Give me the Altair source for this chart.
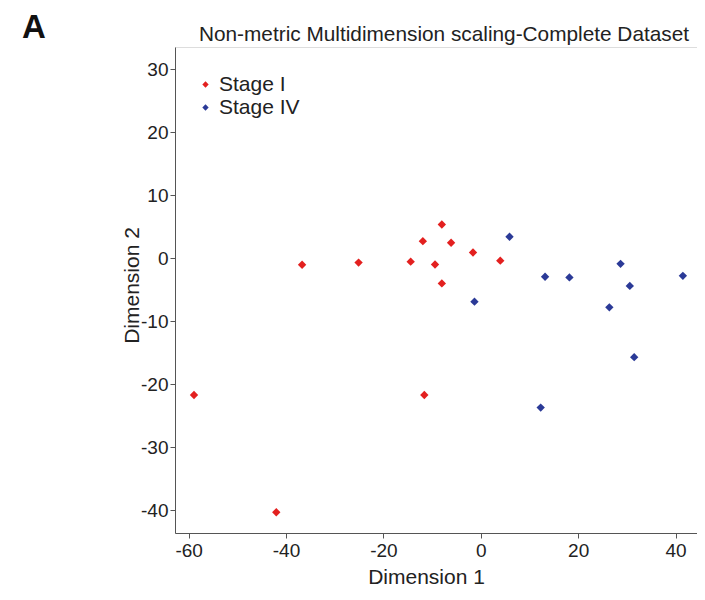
import altair as alt
import pandas as pd

stage1_x = [-58.9, -42.0, -36.7, -25.1, -14.4, -11.9, -9.4, -8.0, -8.0, -6.1, -1.6, 4.0, -11.6]
stage1_y = [-21.7, -40.3, -1.05, -0.7, -0.55, 2.7, -1.0, 5.35, -4.0, 2.45, 0.9, -0.4, -21.7]
stage4_x = [5.9, -1.3, 13.2, 18.2, 28.7, 30.6, 26.4, 31.5, 12.3, 41.5]
stage4_y = [3.4, -6.9, -2.95, -3.05, -0.9, -4.4, -7.8, -15.7, -23.7, -2.8]
groups = ["Stage I", "Stage IV"]
colors = ["#e3201f", "#2b3a97"]
x_ticks = [-60, -40, -20, 0, 20, 40]
y_ticks = [-40, -30, -20, -10, 0, 10, 20, 30]
title_text = "Non-metric Multidimension scaling-Complete Dataset"
panel_label = "A"

df = pd.DataFrame({
    "d1": stage1_x + stage4_x,
    "d2": stage1_y + stage4_y,
    "stage": [groups[0]] * len(stage1_x) + [groups[1]] * len(stage4_x),
})

FONT = "Liberation Sans"
LBL = "'' + datum.value"

points = alt.Chart(df).mark_point(shape="diamond", filled=True, size=70, opacity=1).encode(
    x=alt.X("d1:Q", title="Dimension 1",
            scale=alt.Scale(domain=[-62.8, 44.4], nice=False, zero=False),
            axis=alt.Axis(values=x_ticks, grid=False, tickSize=5, labelFontSize=19,
                          titleFontSize=21, labelPadding=3, titlePadding=6,
                          labelExpr=LBL, titleX=251,
                          labelColor="#222", titleColor="#222", titleFontWeight="normal",
                          domainColor="#555", tickColor="#555")),
    y=alt.Y("d2:Q", title="Dimension 2",
            scale=alt.Scale(domain=[-43.6, 33.5], nice=False, zero=False),
            axis=alt.Axis(values=y_ticks, grid=False, tickSize=5, labelFontSize=19,
                          titleFontSize=21, labelPadding=2, titleX=-33, titleY=238,
                          labelExpr=LBL,
                          labelColor="#222", titleColor="#222", titleFontWeight="normal",
                          domainColor="#555", tickColor="#555")),
    color=alt.Color("stage:N", scale=alt.Scale(domain=groups, range=colors),
                    legend=alt.Legend(title=None, orient="none", legendX=20, legendY=27,
                                      labelFontSize=21, labelColor="#222", symbolSize=40,
                                      symbolType="diamond", rowPadding=1, labelOffset=3,
                                      labelFont=FONT)),
)

label_a = alt.Chart(pd.DataFrame({"t": [panel_label]})).mark_text(
    font=FONT, fontSize=33, fontWeight="bold", align="left",
    baseline="alphabetic", color="#111"
).encode(text="t:N", x=alt.value(-153), y=alt.value(-9))

title_mark = alt.Chart(pd.DataFrame({"t": [title_text]})).mark_text(
    font=FONT, fontSize=20.8, align="center", baseline="alphabetic", color="#222"
).encode(text="t:N", x=alt.value(269), y=alt.value(-6))

chart = alt.layer(points, label_a, title_mark).properties(
    width=522, height=486,
    autosize=alt.AutoSizeParams(type="none"),
    padding={"left": 167, "top": 39, "right": 0, "bottom": 60},
).configure_view(stroke="#9a9a9a", fill="#fcfcfc").configure(font=FONT)

chart.save("out.html", embed_options={"renderer": "svg", "actions": False})
